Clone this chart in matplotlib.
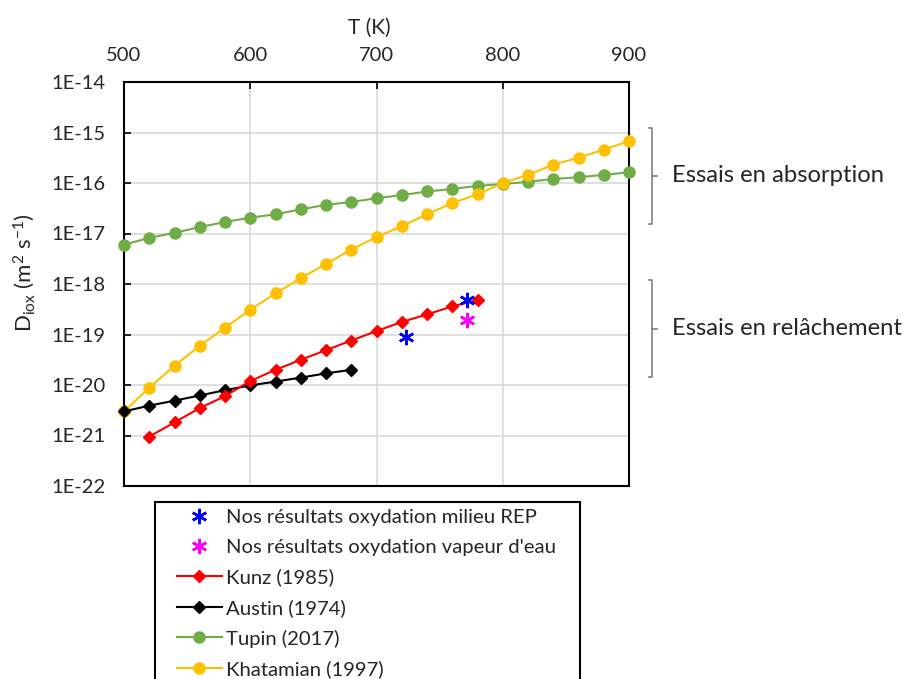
import math
import matplotlib
matplotlib.use("Agg")
import matplotlib.pyplot as plt
from matplotlib.lines import Line2D
from matplotlib.patches import Rectangle
from matplotlib.ticker import FixedLocator, FuncFormatter

plt.rcParams['font.family'] = ['Lato', 'DejaVu Sans']
plt.rcParams['mathtext.fontset'] = 'custom'
plt.rcParams['mathtext.rm'] = 'Lato'
plt.rcParams['mathtext.it'] = 'Lato:italic'

# data (T in K, D in m2/s)
t_tupin = [500, 520, 540, 560, 580, 600, 620, 640, 660, 680, 700,
           720, 740, 760, 780, 800, 820, 840, 860, 880, 900]
d_tupin = [6.0e-18, 8.2e-18, 1.03e-17, 1.34e-17, 1.69e-17, 2.06e-17, 2.4e-17,
           3.0e-17, 3.7e-17, 4.2e-17, 5.0e-17, 5.75e-17, 6.8e-17, 7.6e-17,
           8.8e-17, 9.5e-17, 1.06e-16, 1.2e-16, 1.3e-16, 1.45e-16, 1.63e-16]

t_khat = t_tupin
d_khat = [3.0e-21, 8.8e-21, 2.4e-20, 6.0e-20, 1.36e-19, 3.1e-19, 6.5e-19,
          1.3e-18, 2.5e-18, 4.8e-18, 8.5e-18, 1.4e-17, 2.4e-17, 4.0e-17,
          6.0e-17, 1.0e-16, 1.45e-16, 2.3e-16, 3.16e-16, 4.6e-16, 6.7e-16]

t_kunz = [520, 540, 560, 580, 600, 620, 640, 660, 680, 700, 720, 740, 760, 780]
d_kunz = [9.5e-22, 1.82e-21, 3.5e-21, 6.0e-21, 1.2e-20, 2.0e-20, 3.16e-20,
          4.9e-20, 7.6e-20, 1.17e-19, 1.77e-19, 2.5e-19, 3.6e-19, 4.8e-19]

t_austin = [500, 520, 540, 560, 580, 600, 620, 640, 660, 680]
d_austin = [3.0e-21, 3.9e-21, 4.9e-21, 6.2e-21, 7.9e-21, 9.8e-21, 1.17e-20,
            1.4e-20, 1.7e-20, 2.0e-20]

t_rep = [723, 772]
d_rep = [8.9e-20, 4.9e-19]
t_vap = [772]
d_vap = [1.9e-19]

yticks = [1e-22, 1e-21, 1e-20, 1e-19, 1e-18, 1e-17, 1e-16, 1e-15, 1e-14]
xticks = [500, 600, 700, 800, 900]

W, H = 911, 679
fig = plt.figure(figsize=(W / 100, H / 100), dpi=100)
ax = fig.add_axes([124 / W, 1 - 486 / H, 505 / W, 404 / H])

star = (6, 2, 0)
ax.plot(t_rep, d_rep, linestyle='none', marker=star, ms=11, mew=1.8,
        color='#0000FF', label='Nos résultats oxydation milieu REP', zorder=6, clip_on=False)
ax.plot(t_vap, d_vap, linestyle='none', marker=star, ms=11, mew=1.8,
        color='#FF00FF', label="Nos résultats oxydation vapeur d'eau", zorder=6, clip_on=False)
ax.plot(t_kunz, d_kunz, color='#FF0000', lw=1.5, marker='D', ms=6.5,
        label='Kunz (1985)', zorder=5, clip_on=False)
ax.plot(t_austin, d_austin, color='black', lw=1.5, marker='D', ms=6.5,
        label='Austin (1974)', zorder=4, clip_on=False)
ax.plot(t_tupin, d_tupin, color='#70AD47', lw=1.5, marker='o', ms=8,
        label='Tupin (2017)', zorder=3, clip_on=False)
ax.plot(t_khat, d_khat, color='#FFC000', lw=1.5, marker='o', ms=8,
        label='Khatamian (1997)', zorder=3, clip_on=False)

ax.set_yscale('log')
ax.set_xlim(500, 900)
ax.set_ylim(1e-22, 1e-14)
ax.yaxis.set_major_locator(FixedLocator(yticks))
ax.yaxis.set_minor_locator(FixedLocator([]))
ax.yaxis.set_major_formatter(FuncFormatter(lambda v, p: '1E%d' % round(math.log10(v))))
ax.xaxis.set_major_locator(FixedLocator(xticks))
ax.xaxis.tick_top()
ax.xaxis.set_label_position('top')
ax.tick_params(axis='both', direction='in', length=5, width=1.2, labelsize=14.5,
               colors='black', labelcolor='#262626')
ax.tick_params(axis='x', pad=13)
ax.tick_params(axis='y', pad=13.5)
ax.grid(True, color='#D9D9D9', lw=1.2)
ax.set_axisbelow(True)
for s in ax.spines.values():
    s.set_linewidth(1.5)

ax.set_xlabel('T (K)', fontsize=15, color='#262626')
ax.xaxis.set_label_coords(245 / 505, (486 - 34) / 404)
ax.set_ylabel(r'D$_{\mathrm{iox}}$ (m$^2$ s$^{-1}$)', fontsize=16, color='#262626')
ax.yaxis.set_label_coords((37 - 124) / 505, (486 - 273) / 404)

# legend: frame drawn separately (it runs off the bottom of the figure)
fig.add_artist(Rectangle((155 / W, -0.2), (580 - 155) / W, 0.2 + 1 - 502 / H,
                         transform=fig.transFigure, facecolor='white',
                         edgecolor='black', lw=1.5, zorder=-1))
leg = ax.legend(loc='upper left', bbox_to_anchor=(177 / W, 1 - 509 / H),
                bbox_transform=fig.transFigure, fontsize=14.6, frameon=False,
                handlelength=2.2, handletextpad=0.2, labelspacing=0.62,
                borderpad=0, borderaxespad=0)
for t in leg.get_texts():
    t.set_color('#262626')

# brackets on the right
def bracket(y0, y1, label):
    xs = [649, 652, 652, 649]
    ys = [y0, y0, y1, y1]
    fig.add_artist(Line2D([x / W for x in xs], [1 - y / H for y in ys],
                          color='#808080', lw=1.2))
    ym = (y0 + y1) / 2
    fig.add_artist(Line2D([652 / W, 657 / W], [1 - ym / H, 1 - ym / H],
                          color='#808080', lw=1.2))
    fig.text(672 / W, 1 - ym / H, label, fontsize=17.2, va='center', ha='left',
             color='#262626')

bracket(128, 224, 'Essais en absorption')
bracket(280, 377, 'Essais en relâchement')

fig.savefig('out.png', dpi=100)
